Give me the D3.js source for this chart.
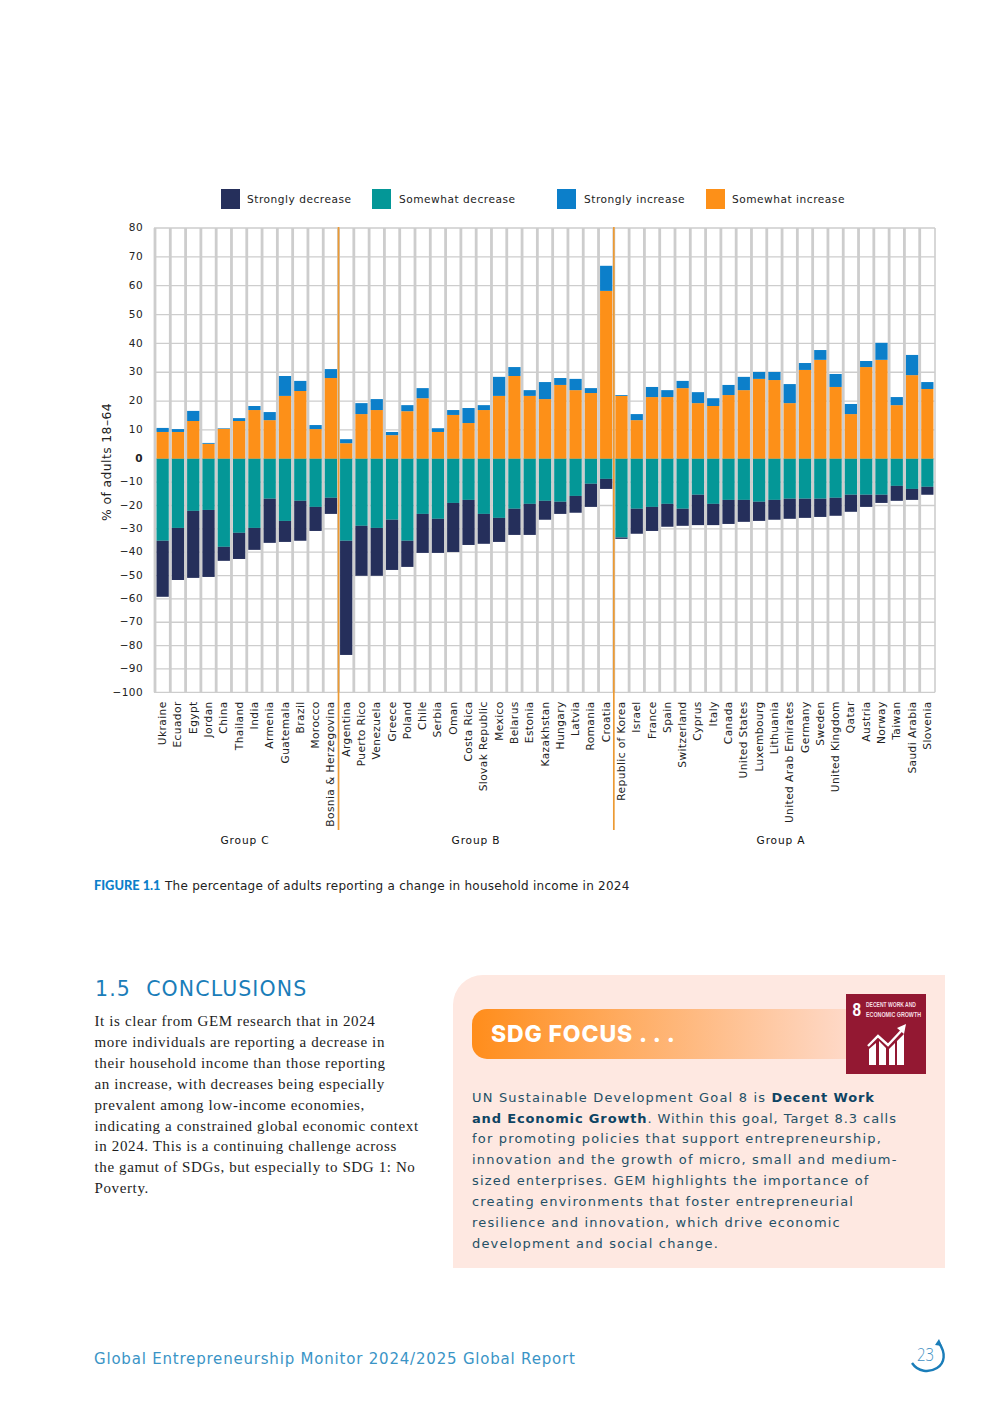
<!DOCTYPE html>
<html><head><meta charset="utf-8">
<script src="https://cdn.jsdelivr.net/npm/d3@7/dist/d3.min.js"></script>
<style>html,body{margin:0;padding:0;background:#fff}svg{display:block}</style>
</head><body><svg id="c" width="992" height="1403"></svg>
<script>
const countries=["Ukraine","Ecuador","Egypt","Jordan","China","Thailand","India","Armenia","Guatemala","Brazil","Morocco","Bosnia & Herzegovina","Argentina","Puerto Rico","Venezuela","Greece","Poland","Chile","Serbia","Oman","Costa Rica","Slovak Republic","Mexico","Belarus","Estonia","Kazakhstan","Hungary","Latvia","Romania","Croatia","Republic of Korea","Israel","France","Spain","Switzerland","Cyprus","Italy","Canada","United States","Luxembourg","Lithuania","United Arab Emirates","Germany","Sweden","United Kingdom","Qatar","Austria","Norway","Taiwan","Saudi Arabia","Slovenia"];
const somewhatIncrease=[9.3,9.3,13.1,5.2,10.4,13.1,16.9,13.4,21.8,23.5,10.3,28,5.4,15.5,16.9,8.2,16.5,21,9.3,15.2,12.4,16.9,21.8,28.7,21.8,20.7,25.6,23.8,22.8,58.2,21.8,13.4,21.4,21.4,24.5,19.3,18.3,22.1,23.8,27.7,27.3,19.3,30.8,34.3,24.9,15.5,31.8,34.3,18.6,29,24.2];
const stronglyIncrease=[1.4,1.0,3.5,0.3,0.2,1.0,1.4,2.8,6.9,3.5,1.4,3.1,1.4,3.8,3.8,1.1,2.1,3.5,1.3,1.7,5.2,1.7,6.6,3.1,2.0,5.9,2.4,3.9,1.7,8.7,0.3,2.1,3.5,2.4,2.5,3.8,2.7,3.5,4.6,2.4,2.8,6.6,2.4,3.4,4.5,3.5,2.1,5.9,2.8,7.0,2.4];
const somewhatDecrease=[35.1,29.6,22.3,21.9,37.7,31.7,29.6,17.1,26.6,18,20.6,16.7,35.1,28.7,29.6,26.1,35.1,23.6,25.7,18.9,17.6,23.6,25.3,21.4,19.3,18,18.4,15.9,10.7,8.6,33.7,21.4,20.6,19.3,21.4,15.4,19.3,17.6,17.6,18.4,17.6,17.1,17.1,17.1,16.7,15.4,15.4,15.4,11.6,12.9,12];
const stronglyDecrease=[24,22.3,28.7,28.7,6,11.2,9.4,18.9,9,17.1,10.3,6.9,48.9,21.4,20.5,21.5,11.2,16.7,14.6,21,19.3,12.8,10.3,11.2,13.3,8.1,5.2,7.2,9.9,4.3,0.6,10.7,10.3,9.8,7.3,13,9.1,10.3,9.4,8.2,8.5,8.6,8.2,7.8,7.7,7.3,5.2,3.5,6.4,4.7,3.4];
const yTicks=[-100,-90,-80,-70,-60,-50,-40,-30,-20,-10,0,10,20,30,40,50,60,70,80];
const legendLabels=["Strongly decrease","Somewhat decrease","Strongly increase","Somewhat increase"];
const groupLabels=["Group C","Group B","Group A"];
const groupStarts=["Ukraine","Argentina","Republic of Korea"];
const conclusionLines=["It is clear from GEM research that in 2024","more individuals are reporting a decrease in","their household income than those reporting","an increase, with decreases being especially","prevalent among low-income economies,","indicating a constrained global economic context","in 2024. This is a continuing challenge across","the gamut of SDGs, but especially to SDG 1: No","Poverty."];
const sdgLines=[[["UN Sustainable Development Goal 8 is ",0],["Decent Work",1]],[["and Economic Growth",1],[". Within this goal, Target 8.3 calls",0]],[["for promoting policies that support entrepreneurship,",0]],[["innovation and the growth of micro, small and medium-",0]],[["sized enterprises. GEM highlights the importance of",0]],[["creating environments that foster entrepreneurial",0]],[["resilience and innovation, which drive economic",0]],[["development and social change.",0]]];

const C={sd:"#252f5b",wd:"#049797",si:"#0c7fca",wi:"#fd9018",grid:"#cdcdcd",blue:"#1a7db9",ink:"#1d1d1d"};
const SANS="'DejaVu Sans',sans-serif";
const svg=d3.select("#c");
const L=155,R=935,T=228,Z=458.8,B=692.3;
const y=d3.scaleLinear().domain([-100,0,80]).range([B,Z,T]);
const x=d3.scaleBand().domain(countries).range([L,R]).paddingInner(0.2).paddingOuter(0.1);
const slot=d3.scaleBand().domain(countries).range([L,R]);

// grid
const g=svg.append("g");
g.selectAll("line.h").data(yTicks).join("line").attr("x1",L-1).attr("x2",R).attr("y1",d=>y(d)).attr("y2",d=>y(d)).attr("stroke",C.grid).attr("stroke-width",1.3);
g.selectAll("line.v").data(countries).join("line").attr("class","v").attr("x1",d=>slot(d)).attr("x2",d=>slot(d)).attr("y1",T).attr("y2",B).attr("stroke",C.grid).attr("stroke-width",2.8);
g.append("line").attr("x1",R).attr("x2",R).attr("y1",T).attr("y2",B).attr("stroke",C.grid).attr("stroke-width",1.6);

// bars
const rows=countries.map((c,i)=>({c,wi:somewhatIncrease[i],si:stronglyIncrease[i],wd:somewhatDecrease[i],sd:stronglyDecrease[i]}));
const seg=(from,to,col)=>svg.append("g").selectAll("rect").data(rows).join("rect")
  .attr("x",d=>x(d.c)).attr("width",x.bandwidth())
  .attr("y",d=>Math.min(y(from(d)),y(to(d)))).attr("height",d=>Math.abs(y(from(d))-y(to(d)))).attr("fill",col);
seg(d=>0,d=>d.wi,C.wi);
seg(d=>d.wi,d=>d.wi+d.si,C.si);
seg(d=>0,d=>-d.wd,C.wd);
seg(d=>-d.wd,d=>-d.wd-d.sd,C.sd);

// group separators
svg.append("g").selectAll("line").data(groupStarts.slice(1)).join("line").attr("x1",d=>slot(d)).attr("x2",d=>slot(d)).attr("y1",T-1).attr("y2",830).attr("stroke","#ec9a33").attr("stroke-width",1.7);

// y axis
const ax=svg.append("g").attr("transform",`translate(${L-12},0)`).call(d3.axisLeft(y).tickValues(yTicks).tickSize(0).tickPadding(0).tickFormat(d3.format("d")));
ax.select(".domain").remove();
ax.selectAll("text").attr("font-family",SANS).attr("font-size",10.5).attr("fill","#222").attr("letter-spacing",0.4).attr("dy","0.26em").attr("font-weight",d=>d===0?700:400);
svg.append("text").attr("transform","translate(111,462) rotate(-90)").attr("text-anchor","middle").attr("font-family",SANS).attr("font-size",12.4).attr("letter-spacing",0.4).attr("fill","#222").text("% of adults 18–64");

// x labels
const ax2=svg.append("g").attr("transform",`translate(0,${B+9})`).call(d3.axisBottom(x).tickSize(0).tickPadding(0));
ax2.select(".domain").remove();
ax2.selectAll("text").attr("font-family",SANS).attr("font-size",10.6).attr("fill","#222").attr("letter-spacing",0.42).attr("text-anchor","end").attr("transform","rotate(-90)").attr("x",0).attr("y",0).attr("dy","0.36em");
ax2.selectAll(".tick").attr("transform",d=>`translate(${x(d)+x.bandwidth()/2-0.3},0)`);

// legend
const legX=[221,372,557,706],legC=[C.sd,C.wd,C.si,C.wi];
const lg=svg.append("g").selectAll("g").data(legendLabels).join("g").attr("transform",(d,i)=>`translate(${legX[i]},189)`);
lg.append("rect").attr("width",19).attr("height",20).attr("fill",(d,i)=>legC[i]);
lg.append("text").attr("x",(d,i)=>i==0||i==3?26:27).attr("y",14).attr("font-family",SANS).attr("font-size",10.6).attr("letter-spacing",0.52).attr("fill","#222").text(d=>d);

// group labels
const groupX=[245,476,781];
svg.append("g").selectAll("text").data(groupLabels).join("text").attr("x",(d,i)=>groupX[i]).attr("y",844).attr("text-anchor","middle").attr("font-family",SANS).attr("font-size",10.6).attr("letter-spacing",0.85).attr("fill","#111").text(d=>d);

// caption
const cap=svg.append("text").attr("x",94).attr("y",890).attr("font-family",SANS);
cap.append("tspan").attr("font-family","Lato,sans-serif").attr("font-weight",900).attr("font-size",12.8).attr("fill","#0c7fca").text("FIGURE 1.1");
cap.append("tspan").attr("x",165).attr("font-size",12).attr("letter-spacing",0.26).attr("fill","#222").text("The percentage of adults reporting a change in household income in 2024");

// conclusions
svg.append("text").attr("x",95).attr("y",996).attr("font-family",SANS).attr("font-size",20.5).attr("letter-spacing",1.1).attr("fill",C.blue).style("white-space","pre").text("1.5  CONCLUSIONS");
svg.append("g").selectAll("text").data(conclusionLines).join("text").attr("x",94.5).attr("y",(d,i)=>1026+i*20.9).attr("font-family","'Liberation Serif',serif").attr("font-size",15).attr("letter-spacing",0.62).attr("fill",C.ink).text(d=>d);

// SDG panel
svg.append("path").attr("d","M453,1268V1005a30,30 0 0 1 30,-30H945V1268Z").attr("fill","#fee8e1");
const gr=svg.append("defs").append("linearGradient").attr("id","sdgG");
gr.append("stop").attr("offset","0").attr("stop-color","#ff8d1b");
gr.append("stop").attr("offset","1").attr("stop-color","#fed9c8");
svg.append("path").attr("d","M848,1009H487a15,15 0 0 0 -15,15V1044a15,15 0 0 0 15,15H848Z").attr("fill","url(#sdgG)");
svg.append("text").attr("x",491).attr("y",1042).attr("font-family","Inter,sans-serif").attr("font-weight",800).attr("font-size",23).attr("letter-spacing",0.85).attr("fill","#fff").text("SDG FOCUS . . .");
svg.append("rect").attr("x",846).attr("y",994).attr("width",80).attr("height",80).attr("fill","#931832");
svg.append("text").attr("x",852.5).attr("y",1016).attr("font-family","'Liberation Sans',sans-serif").attr("font-weight",700).attr("font-size",18).attr("fill","#fff").attr("textLength",8.5).attr("lengthAdjust","spacingAndGlyphs").text("8");
[["DECENT WORK AND",1007,50],["ECONOMIC GROWTH",1017,55]].forEach(t=>svg.append("text").attr("x",866).attr("y",t[1]).attr("font-family","'Liberation Sans',sans-serif").attr("font-weight",700).attr("font-size",8).attr("fill","#f6dfe3").attr("textLength",t[2]).attr("lengthAdjust","spacingAndGlyphs").text(t[0]));
svg.append("path").attr("d","M869,1065V1049L876,1043V1065ZM879,1065V1041L886,1048V1065ZM889,1065V1049L895,1043V1065ZM897,1065V1041L904,1034V1065Z").attr("fill","#fff");
svg.append("path").attr("d","M868,1046L878,1036L888,1045L903,1029").attr("fill","none").attr("stroke","#fff").attr("stroke-width",2.4);
svg.append("path").attr("d","M897,1028L906,1024L904,1034Z").attr("fill","#fff");

const sdg=svg.append("g").selectAll("text").data(sdgLines).join("text").attr("x",472).attr("y",(d,i)=>1101.6+i*20.9).attr("font-family",SANS).attr("font-size",13).attr("fill","#245066");
sdg.selectAll("tspan").data(d=>d).join("tspan").attr("font-weight",d=>d[1]?700:400).attr("letter-spacing",d=>d[1]?0.85:(d[0].startsWith(". Within")?0.93:1.18)).attr("fill",d=>d[1]?"#0e4463":"#245066").text(d=>d[0]);

// footer
svg.append("text").attr("x",94).attr("y",1364).attr("font-family",SANS).attr("font-size",15).attr("letter-spacing",0.8).attr("fill","#3a94c6").text("Global Entrepreneurship Monitor 2024/2025 Global Report");
svg.append("text").attr("x",917).attr("y",1361).attr("font-family","'Open Sans',sans-serif").attr("font-weight",300).attr("font-size",18).attr("fill","#3f8fc2").attr("textLength",17).attr("lengthAdjust","spacingAndGlyphs").text("23");
svg.append("path").attr("d","M939,1343C946,1353 945,1363 937,1368C929,1373 918,1372 912,1363").attr("fill","none").attr("stroke","#1a7db9").attr("stroke-width",2.4);
svg.append("path").attr("d","M935,1345L939,1339L942,1346Z").attr("fill","#1a7db9");
</script></body></html>
